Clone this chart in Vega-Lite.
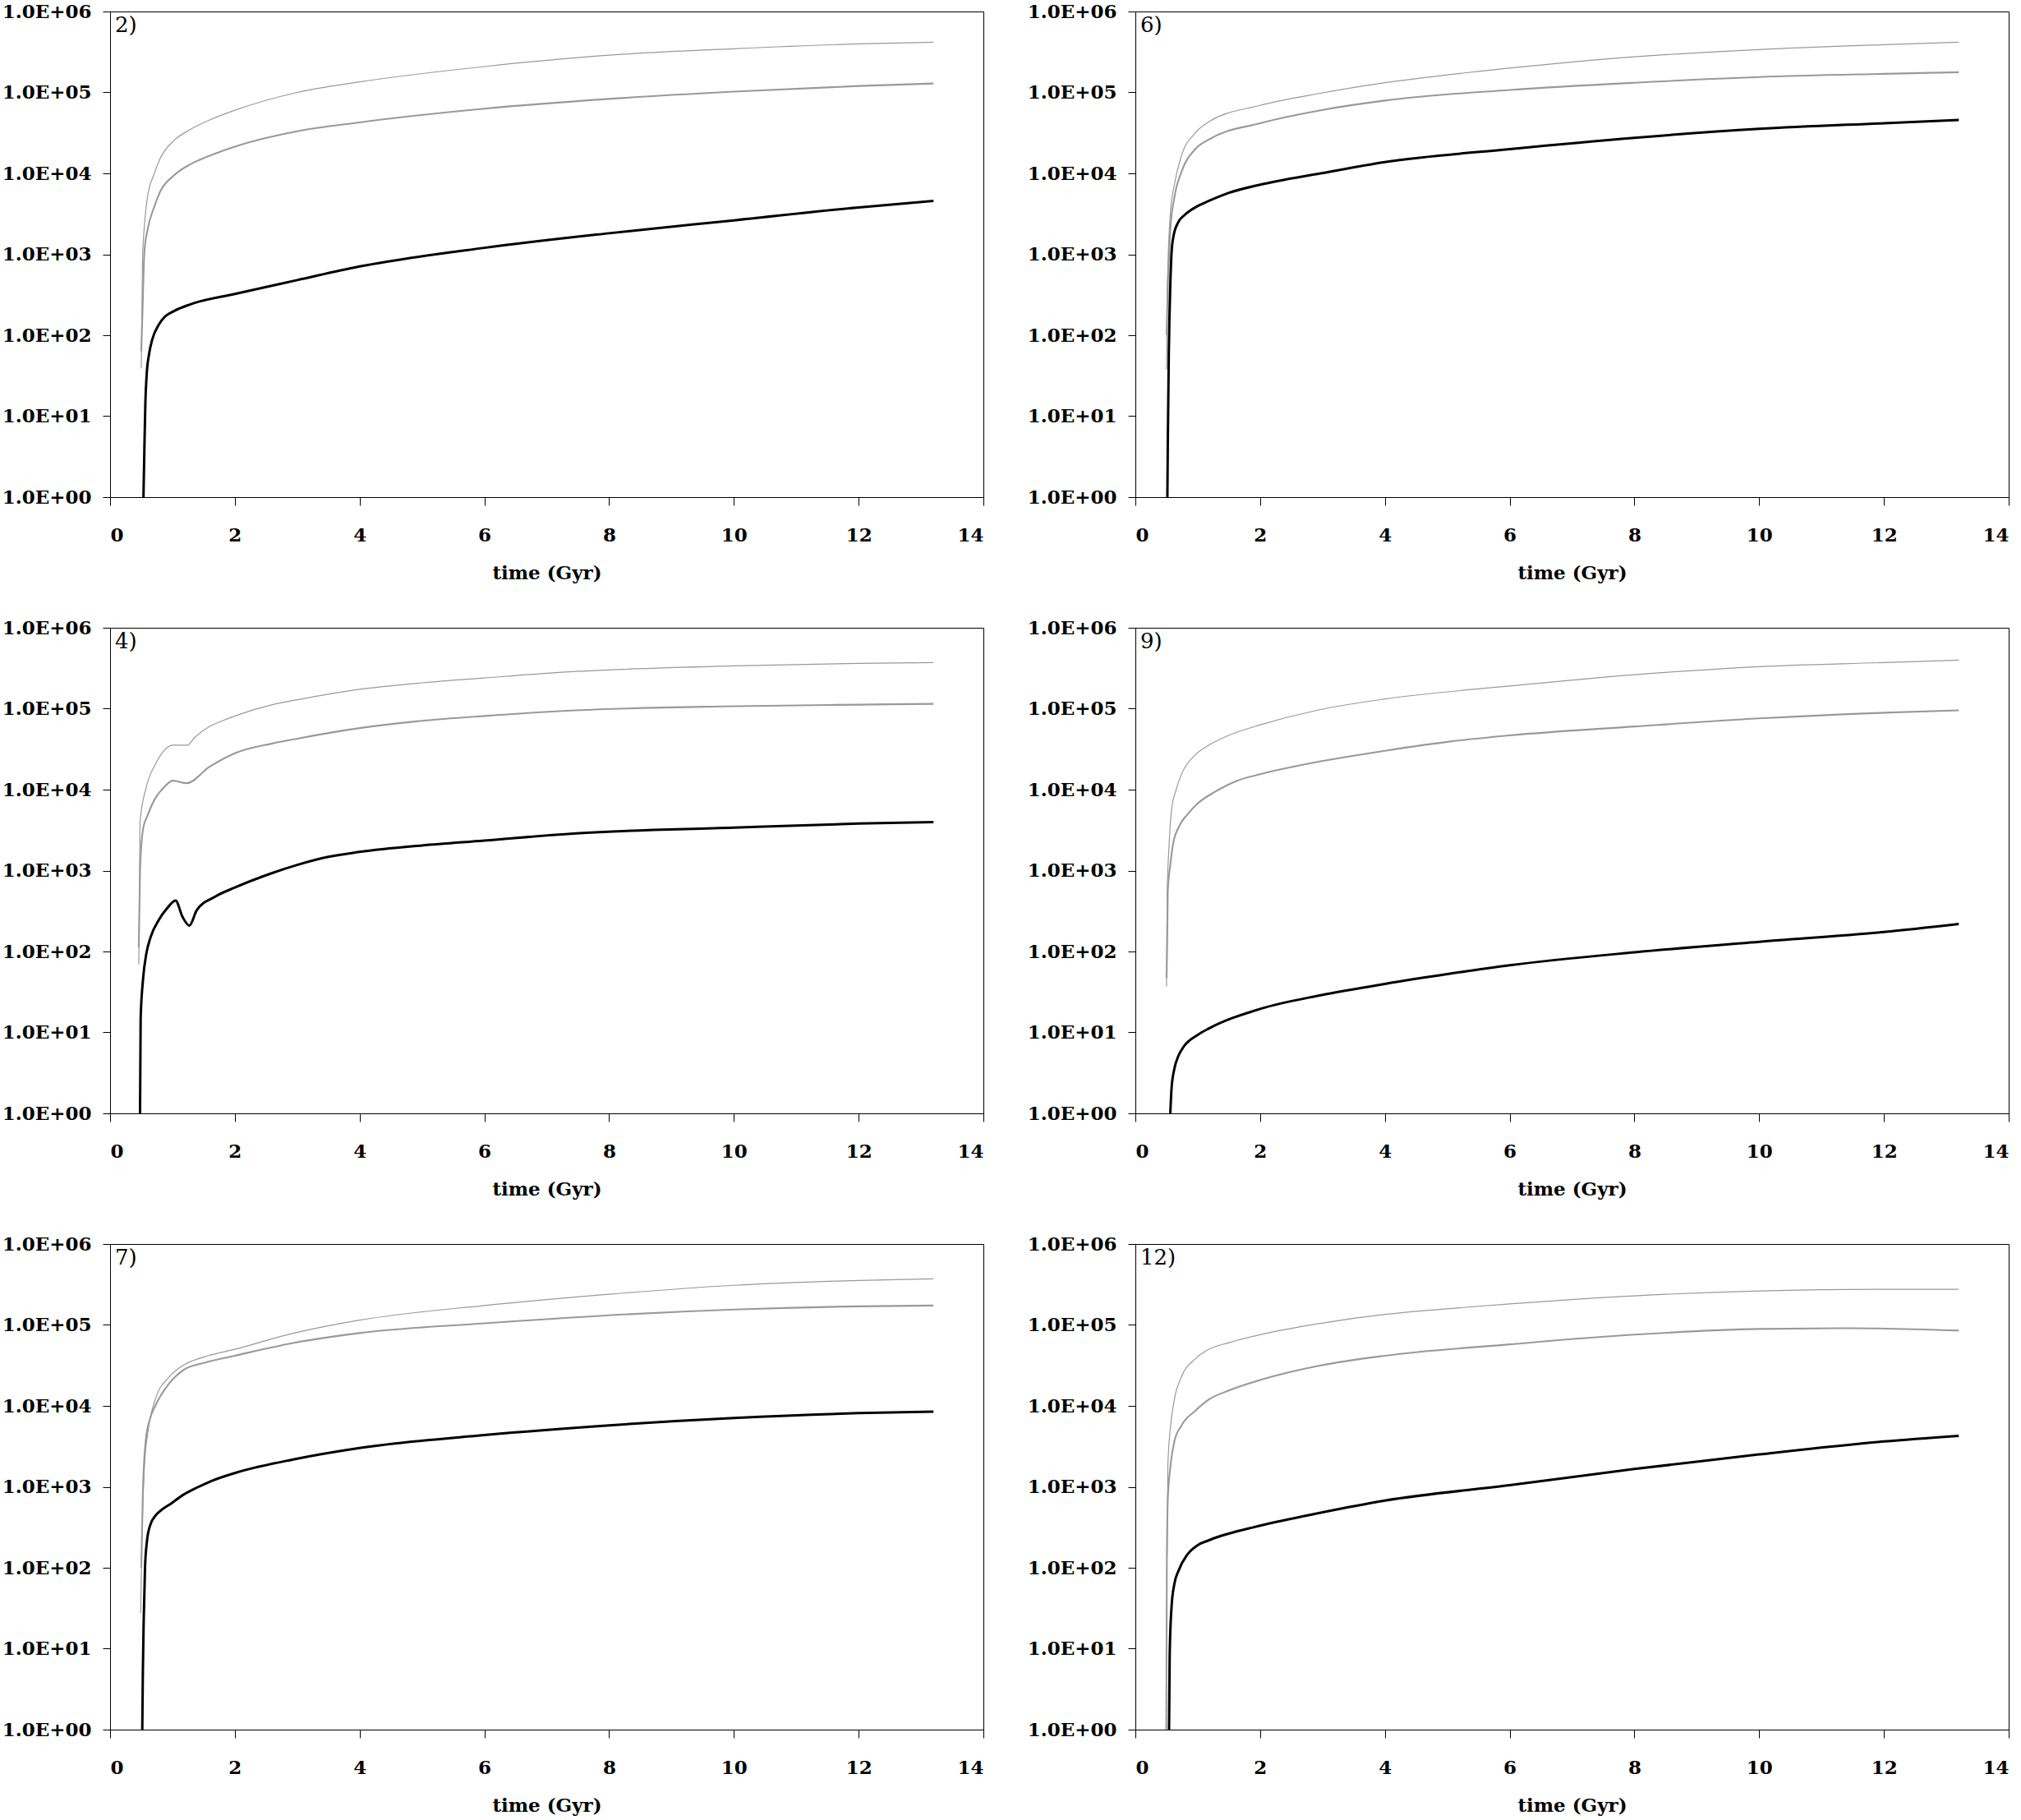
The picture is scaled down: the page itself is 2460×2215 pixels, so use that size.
{
  "$schema": "https://vega.github.io/schema/vega-lite/v6.json",
  "background": "white",
  "padding": {"left": 1, "top": 2, "right": 5, "bottom": 0},
  "data": {"values": [
    {"p":"2)","s":"light","t":0.5,"v":39},{"p":"2)","s":"light","t":0.52,"v":871},{"p":"2)","s":"light","t":0.55,"v":2239},{"p":"2)","s":"light","t":0.6,"v":5129},{"p":"2)","s":"light","t":0.7,"v":9550},{"p":"2)","s":"light","t":0.8,"v":15140},{"p":"2)","s":"light","t":1.03,"v":25700},{"p":"2)","s":"light","t":1.28,"v":34670},{"p":"2)","s":"light","t":1.54,"v":43650},{"p":"2)","s":"light","t":2,"v":60260},{"p":"2)","s":"light","t":3,"v":100000},{"p":"2)","s":"light","t":4,"v":134900},{"p":"2)","s":"light","t":6,"v":208900},{"p":"2)","s":"light","t":8,"v":288400},{"p":"2)","s":"light","t":10,"v":346700},{"p":"2)","s":"light","t":12,"v":398100},{"p":"2)","s":"light","t":13.2,"v":416900},
    {"p":"2)","s":"mid","t":0.5,"v":63},{"p":"2)","s":"mid","t":0.52,"v":200},{"p":"2)","s":"mid","t":0.55,"v":1072},{"p":"2)","s":"mid","t":0.6,"v":1995},{"p":"2)","s":"mid","t":0.7,"v":3715},{"p":"2)","s":"mid","t":0.8,"v":5888},{"p":"2)","s":"mid","t":1.03,"v":9550},{"p":"2)","s":"mid","t":1.28,"v":12880},{"p":"2)","s":"mid","t":1.54,"v":15850},{"p":"2)","s":"mid","t":2,"v":21380},{"p":"2)","s":"mid","t":3,"v":33110},{"p":"2)","s":"mid","t":4,"v":42660},{"p":"2)","s":"mid","t":6,"v":63100},{"p":"2)","s":"mid","t":8,"v":83180},{"p":"2)","s":"mid","t":10,"v":102300},{"p":"2)","s":"mid","t":12,"v":120200},{"p":"2)","s":"mid","t":13.2,"v":128800},
    {"p":"2)","s":"dark","t":0.535,"v":1},{"p":"2)","s":"dark","t":0.55,"v":4},{"p":"2)","s":"dark","t":0.566,"v":15},{"p":"2)","s":"dark","t":0.586,"v":32},{"p":"2)","s":"dark","t":0.626,"v":59},{"p":"2)","s":"dark","t":0.677,"v":89},{"p":"2)","s":"dark","t":0.78,"v":135},{"p":"2)","s":"dark","t":0.88,"v":170},{"p":"2)","s":"dark","t":1.03,"v":200},{"p":"2)","s":"dark","t":1.28,"v":240},{"p":"2)","s":"dark","t":2,"v":324},{"p":"2)","s":"dark","t":3,"v":480},{"p":"2)","s":"dark","t":4,"v":708},{"p":"2)","s":"dark","t":6,"v":1202},{"p":"2)","s":"dark","t":8,"v":1820},{"p":"2)","s":"dark","t":10,"v":2630},{"p":"2)","s":"dark","t":12,"v":3800},{"p":"2)","s":"dark","t":13.2,"v":4570},

    {"p":"6)","s":"light","t":0.5,"v":38},{"p":"6)","s":"light","t":0.51,"v":316},{"p":"6)","s":"light","t":0.56,"v":3162},{"p":"6)","s":"light","t":0.625,"v":7244},{"p":"6)","s":"light","t":0.74,"v":16600},{"p":"6)","s":"light","t":0.96,"v":31620},{"p":"6)","s":"light","t":1.18,"v":43650},{"p":"6)","s":"light","t":2,"v":69180},{"p":"6)","s":"light","t":2.97,"v":97720},{"p":"6)","s":"light","t":4,"v":131800},{"p":"6)","s":"light","t":6,"v":199500},{"p":"6)","s":"light","t":8,"v":275400},{"p":"6)","s":"light","t":10,"v":338800},{"p":"6)","s":"light","t":12,"v":389000},{"p":"6)","s":"light","t":13.2,"v":416900},
    {"p":"6)","s":"mid","t":0.5,"v":100},{"p":"6)","s":"mid","t":0.52,"v":380},{"p":"6)","s":"mid","t":0.56,"v":1995},{"p":"6)","s":"mid","t":0.625,"v":5012},{"p":"6)","s":"mid","t":0.74,"v":10470},{"p":"6)","s":"mid","t":0.96,"v":19950},{"p":"6)","s":"mid","t":1.18,"v":26300},{"p":"6)","s":"mid","t":2,"v":41690},{"p":"6)","s":"mid","t":2.97,"v":60260},{"p":"6)","s":"mid","t":4,"v":79430},{"p":"6)","s":"mid","t":6,"v":107200},{"p":"6)","s":"mid","t":8,"v":131800},{"p":"6)","s":"mid","t":10,"v":154900},{"p":"6)","s":"mid","t":12,"v":169800},{"p":"6)","s":"mid","t":13.2,"v":177800},
    {"p":"6)","s":"dark","t":0.513,"v":1},{"p":"6)","s":"dark","t":0.52,"v":4.8},{"p":"6)","s":"dark","t":0.536,"v":60},{"p":"6)","s":"dark","t":0.56,"v":417},{"p":"6)","s":"dark","t":0.58,"v":1047},{"p":"6)","s":"dark","t":0.61,"v":1660},{"p":"6)","s":"dark","t":0.69,"v":2512},{"p":"6)","s":"dark","t":0.78,"v":3020},{"p":"6)","s":"dark","t":0.96,"v":3802},{"p":"6)","s":"dark","t":1.18,"v":4571},{"p":"6)","s":"dark","t":1.5,"v":5754},{"p":"6)","s":"dark","t":2,"v":7244},{"p":"6)","s":"dark","t":2.97,"v":10000},{"p":"6)","s":"dark","t":4,"v":13800},{"p":"6)","s":"dark","t":6,"v":19950},{"p":"6)","s":"dark","t":8,"v":27540},{"p":"6)","s":"dark","t":10,"v":35480},{"p":"6)","s":"dark","t":12,"v":41690},{"p":"6)","s":"dark","t":13.2,"v":45710},

    {"p":"4)","s":"light","t":0.46,"v":69},{"p":"4)","s":"light","t":0.48,"v":3981},{"p":"4)","s":"light","t":0.58,"v":10720},{"p":"4)","s":"light","t":0.73,"v":20890},{"p":"4)","s":"light","t":1.01,"v":35480},{"p":"4)","s":"light","t":1.24,"v":35480},{"p":"4)","s":"light","t":1.35,"v":43650},{"p":"4)","s":"light","t":1.59,"v":60260},{"p":"4)","s":"light","t":1.8,"v":70800},{"p":"4)","s":"light","t":2,"v":81280},{"p":"4)","s":"light","t":2.6,"v":112200},{"p":"4)","s":"light","t":3,"v":128800},{"p":"4)","s":"light","t":4,"v":173800},{"p":"4)","s":"light","t":5,"v":208900},{"p":"4)","s":"light","t":6,"v":239900},{"p":"4)","s":"light","t":7.47,"v":288400},{"p":"4)","s":"light","t":10,"v":338800},{"p":"4)","s":"light","t":12,"v":363100},{"p":"4)","s":"light","t":13.2,"v":371500},
    {"p":"4)","s":"mid","t":0.46,"v":112},{"p":"4)","s":"mid","t":0.48,"v":1000},{"p":"4)","s":"mid","t":0.53,"v":3311},{"p":"4)","s":"mid","t":0.6,"v":4786},{"p":"4)","s":"mid","t":0.73,"v":7943},{"p":"4)","s":"mid","t":0.83,"v":10000},{"p":"4)","s":"mid","t":1.01,"v":12880},{"p":"4)","s":"mid","t":1.23,"v":12020},{"p":"4)","s":"mid","t":1.59,"v":19050},{"p":"4)","s":"mid","t":2,"v":28180},{"p":"4)","s":"mid","t":2.6,"v":37150},{"p":"4)","s":"mid","t":3,"v":42660},{"p":"4)","s":"mid","t":4,"v":57540},{"p":"4)","s":"mid","t":5,"v":70800},{"p":"4)","s":"mid","t":6,"v":81280},{"p":"4)","s":"mid","t":7.47,"v":95500},{"p":"4)","s":"mid","t":10,"v":107200},{"p":"4)","s":"mid","t":12,"v":112200},{"p":"4)","s":"mid","t":13.2,"v":114800},
    {"p":"4)","s":"dark","t":0.48,"v":1},{"p":"4)","s":"dark","t":0.49,"v":14.8},{"p":"4)","s":"dark","t":0.53,"v":46.8},{"p":"4)","s":"dark","t":0.58,"v":93},{"p":"4)","s":"dark","t":0.65,"v":151},{"p":"4)","s":"dark","t":0.78,"v":245},{"p":"4)","s":"dark","t":0.91,"v":339},{"p":"4)","s":"dark","t":1.05,"v":427},{"p":"4)","s":"dark","t":1.16,"v":269},{"p":"4)","s":"dark","t":1.27,"v":209},{"p":"4)","s":"dark","t":1.39,"v":324},{"p":"4)","s":"dark","t":1.69,"v":479},{"p":"4)","s":"dark","t":2,"v":617},{"p":"4)","s":"dark","t":2.6,"v":933},{"p":"4)","s":"dark","t":3,"v":1175},{"p":"4)","s":"dark","t":3.5,"v":1479},{"p":"4)","s":"dark","t":4,"v":1698},{"p":"4)","s":"dark","t":5,"v":2042},{"p":"4)","s":"dark","t":6,"v":2344},{"p":"4)","s":"dark","t":7.47,"v":2884},{"p":"4)","s":"dark","t":10,"v":3388},{"p":"4)","s":"dark","t":12,"v":3802},{"p":"4)","s":"dark","t":13.2,"v":3981},

    {"p":"9)","s":"light","t":0.5,"v":37},{"p":"9)","s":"light","t":0.51,"v":513},{"p":"9)","s":"light","t":0.54,"v":2042},{"p":"9)","s":"light","t":0.58,"v":5623},{"p":"9)","s":"light","t":0.65,"v":9772},{"p":"9)","s":"light","t":0.74,"v":15490},{"p":"9)","s":"light","t":0.96,"v":26920},{"p":"9)","s":"light","t":1.18,"v":35480},{"p":"9)","s":"light","t":1.63,"v":51290},{"p":"9)","s":"light","t":2,"v":63100},{"p":"9)","s":"light","t":2.97,"v":97720},{"p":"9)","s":"light","t":4,"v":131800},{"p":"9)","s":"light","t":6,"v":190500},{"p":"9)","s":"light","t":8,"v":263000},{"p":"9)","s":"light","t":10,"v":331100},{"p":"9)","s":"light","t":12,"v":371500},{"p":"9)","s":"light","t":13.2,"v":398100},
    {"p":"9)","s":"mid","t":0.5,"v":47},{"p":"9)","s":"mid","t":0.51,"v":126},{"p":"9)","s":"mid","t":0.52,"v":562},{"p":"9)","s":"mid","t":0.56,"v":1175},{"p":"9)","s":"mid","t":0.6,"v":2042},{"p":"9)","s":"mid","t":0.69,"v":3388},{"p":"9)","s":"mid","t":0.83,"v":4898},{"p":"9)","s":"mid","t":1,"v":6761},{"p":"9)","s":"mid","t":1.27,"v":9333},{"p":"9)","s":"mid","t":1.63,"v":12880},{"p":"9)","s":"mid","t":2,"v":15490},{"p":"9)","s":"mid","t":2.97,"v":22390},{"p":"9)","s":"mid","t":4,"v":30200},{"p":"9)","s":"mid","t":5,"v":38900},{"p":"9)","s":"mid","t":6,"v":46770},{"p":"9)","s":"mid","t":8,"v":60260},{"p":"9)","s":"mid","t":10,"v":75860},{"p":"9)","s":"mid","t":12,"v":89130},{"p":"9)","s":"mid","t":13.2,"v":95500},
    {"p":"9)","s":"dark","t":0.56,"v":1},{"p":"9)","s":"dark","t":0.58,"v":2.04},{"p":"9)","s":"dark","t":0.625,"v":3.55},{"p":"9)","s":"dark","t":0.69,"v":5.13},{"p":"9)","s":"dark","t":0.78,"v":6.76},{"p":"9)","s":"dark","t":1,"v":9.33},{"p":"9)","s":"dark","t":1.18,"v":11.2},{"p":"9)","s":"dark","t":2,"v":19.5},{"p":"9)","s":"dark","t":2.97,"v":28.8},{"p":"9)","s":"dark","t":4,"v":39.8},{"p":"9)","s":"dark","t":5,"v":52.5},{"p":"9)","s":"dark","t":6,"v":67.6},{"p":"9)","s":"dark","t":8,"v":97.7},{"p":"9)","s":"dark","t":10,"v":131.8},{"p":"9)","s":"dark","t":12,"v":173.8},{"p":"9)","s":"dark","t":13.2,"v":218.8},

    {"p":"7)","s":"light","t":0.49,"v":27.5},{"p":"7)","s":"light","t":0.51,"v":209},{"p":"7)","s":"light","t":0.55,"v":1738},{"p":"7)","s":"light","t":0.615,"v":5248},{"p":"7)","s":"light","t":0.725,"v":12020},{"p":"7)","s":"light","t":0.95,"v":22910},{"p":"7)","s":"light","t":1.17,"v":31620},{"p":"7)","s":"light","t":1.53,"v":40740},{"p":"7)","s":"light","t":2,"v":50120},{"p":"7)","s":"light","t":2.95,"v":79430},{"p":"7)","s":"light","t":4,"v":114800},{"p":"7)","s":"light","t":6,"v":173800},{"p":"7)","s":"light","t":8,"v":239900},{"p":"7)","s":"light","t":10,"v":309000},{"p":"7)","s":"light","t":12,"v":354800},{"p":"7)","s":"light","t":13.2,"v":371500},
    {"p":"7)","s":"mid","t":0.5,"v":100},{"p":"7)","s":"mid","t":0.525,"v":832},{"p":"7)","s":"mid","t":0.57,"v":3631},{"p":"7)","s":"mid","t":0.64,"v":6918},{"p":"7)","s":"mid","t":0.725,"v":10000},{"p":"7)","s":"mid","t":0.95,"v":19050},{"p":"7)","s":"mid","t":1.17,"v":27540},{"p":"7)","s":"mid","t":1.5,"v":33900},{"p":"7)","s":"mid","t":2,"v":41690},{"p":"7)","s":"mid","t":2.95,"v":60260},{"p":"7)","s":"mid","t":4,"v":79430},{"p":"7)","s":"mid","t":6,"v":104700},{"p":"7)","s":"mid","t":8,"v":131800},{"p":"7)","s":"mid","t":10,"v":154900},{"p":"7)","s":"mid","t":12,"v":169800},{"p":"7)","s":"mid","t":13.2,"v":173800},
    {"p":"7)","s":"dark","t":0.516,"v":1},{"p":"7)","s":"dark","t":0.525,"v":4.8},{"p":"7)","s":"dark","t":0.538,"v":20.9},{"p":"7)","s":"dark","t":0.56,"v":100},{"p":"7)","s":"dark","t":0.59,"v":209},{"p":"7)","s":"dark","t":0.64,"v":331},{"p":"7)","s":"dark","t":0.725,"v":437},{"p":"7)","s":"dark","t":0.8,"v":501},{"p":"7)","s":"dark","t":0.99,"v":631},{"p":"7)","s":"dark","t":1.17,"v":794},{"p":"7)","s":"dark","t":1.39,"v":977},{"p":"7)","s":"dark","t":1.62,"v":1175},{"p":"7)","s":"dark","t":2,"v":1479},{"p":"7)","s":"dark","t":2.95,"v":2188},{"p":"7)","s":"dark","t":4,"v":3020},{"p":"7)","s":"dark","t":6,"v":4365},{"p":"7)","s":"dark","t":8,"v":5754},{"p":"7)","s":"dark","t":10,"v":7079},{"p":"7)","s":"dark","t":12,"v":8128},{"p":"7)","s":"dark","t":13.2,"v":8511},

    {"p":"12)","s":"light","t":0.51,"v":145},{"p":"12)","s":"light","t":0.52,"v":1738},{"p":"12)","s":"light","t":0.56,"v":5248},{"p":"12)","s":"light","t":0.625,"v":12020},{"p":"12)","s":"light","t":0.74,"v":22910},{"p":"12)","s":"light","t":0.96,"v":38020},{"p":"12)","s":"light","t":1.18,"v":50120},{"p":"12)","s":"light","t":1.5,"v":60260},{"p":"12)","s":"light","t":2,"v":75860},{"p":"12)","s":"light","t":2.97,"v":104700},{"p":"12)","s":"light","t":4,"v":134900},{"p":"12)","s":"light","t":5,"v":158500},{"p":"12)","s":"light","t":6,"v":182000},{"p":"12)","s":"light","t":8,"v":229100},{"p":"12)","s":"light","t":10,"v":263000},{"p":"12)","s":"light","t":12,"v":275400},{"p":"12)","s":"light","t":13.2,"v":275400},
    {"p":"12)","s":"mid","t":0.495,"v":1},{"p":"12)","s":"mid","t":0.505,"v":132},{"p":"12)","s":"mid","t":0.52,"v":692},{"p":"12)","s":"mid","t":0.56,"v":1738},{"p":"12)","s":"mid","t":0.625,"v":3631},{"p":"12)","s":"mid","t":0.74,"v":5754},{"p":"12)","s":"mid","t":0.96,"v":8710},{"p":"12)","s":"mid","t":1.18,"v":12020},{"p":"12)","s":"mid","t":1.5,"v":15490},{"p":"12)","s":"mid","t":2,"v":20890},{"p":"12)","s":"mid","t":2.97,"v":31620},{"p":"12)","s":"mid","t":4,"v":41690},{"p":"12)","s":"mid","t":6,"v":57540},{"p":"12)","s":"mid","t":8,"v":75860},{"p":"12)","s":"mid","t":10,"v":89130},{"p":"12)","s":"mid","t":11.5,"v":91200},{"p":"12)","s":"mid","t":13.2,"v":85110},
    {"p":"12)","s":"dark","t":0.54,"v":1},{"p":"12)","s":"dark","t":0.55,"v":8.3},{"p":"12)","s":"dark","t":0.58,"v":33.1},{"p":"12)","s":"dark","t":0.625,"v":63.1},{"p":"12)","s":"dark","t":0.69,"v":91.2},{"p":"12)","s":"dark","t":0.83,"v":144.5},{"p":"12)","s":"dark","t":1,"v":190.5},{"p":"12)","s":"dark","t":1.18,"v":218.8},{"p":"12)","s":"dark","t":2,"v":331},{"p":"12)","s":"dark","t":2.97,"v":479},{"p":"12)","s":"dark","t":4,"v":676},{"p":"12)","s":"dark","t":6,"v":1047},{"p":"12)","s":"dark","t":8,"v":1660},{"p":"12)","s":"dark","t":10,"v":2512},{"p":"12)","s":"dark","t":12,"v":3631},{"p":"12)","s":"dark","t":13.2,"v":4266}
  ]},
  "columns": 2,
  "spacing": {"row": 159, "column": 185},
  "bounds": "flush",
  "concat": [
    {
      "transform": [{"filter": "datum.p == '2)'"}],
      "width": 1063, "height": 591,
      "layer": [
        {"mark": {"type": "line", "interpolate": "monotone", "clip": true},
         "encoding": {
           "x": {"field": "t", "type": "quantitative", "scale": {"domain": [0, 14]}, "axis": {"values": [0, 2, 4, 6, 8, 10, 12, 14], "format": "d", "title": "time (Gyr)"}},
           "y": {"field": "v", "type": "quantitative", "scale": {"type": "log", "domain": [1, 1000000]}, "axis": {"values": [1, 10, 100, 1000, 10000, 100000, 1000000], "title": null, "labelExpr": "'1.0E+0' + format(log(datum.value) / LN10, '.0f')"}},
           "color": {"field": "s", "type": "nominal", "legend": null, "scale": {"domain": ["light", "mid", "dark"], "range": ["#999999", "#999999", "#000000"]}},
           "strokeWidth": {"field": "s", "type": "nominal", "legend": null, "scale": {"domain": ["light", "mid", "dark"], "range": [1.2, 3, 3]}}
         }},
        {"transform": [{"filter": "datum.s == 'dark' && datum.t == 13.2"}],
         "mark": {"type": "text", "align": "left", "baseline": "top", "dx": 6, "dy": 4, "font": "DejaVu Serif", "fontSize": 26, "color": "black"},
         "encoding": {"x": {"datum": 0}, "y": {"datum": 1000000}, "text": {"field": "p"}}}
      ]
    },
    {
      "transform": [{"filter": "datum.p == '6)'"}],
      "width": 1063, "height": 591,
      "layer": [
        {"mark": {"type": "line", "interpolate": "monotone", "clip": true},
         "encoding": {
           "x": {"field": "t", "type": "quantitative", "scale": {"domain": [0, 14]}, "axis": {"values": [0, 2, 4, 6, 8, 10, 12, 14], "format": "d", "title": "time (Gyr)"}},
           "y": {"field": "v", "type": "quantitative", "scale": {"type": "log", "domain": [1, 1000000]}, "axis": {"values": [1, 10, 100, 1000, 10000, 100000, 1000000], "title": null, "labelExpr": "'1.0E+0' + format(log(datum.value) / LN10, '.0f')"}},
           "color": {"field": "s", "type": "nominal", "legend": null, "scale": {"domain": ["light", "mid", "dark"], "range": ["#999999", "#999999", "#000000"]}},
           "strokeWidth": {"field": "s", "type": "nominal", "legend": null, "scale": {"domain": ["light", "mid", "dark"], "range": [1.2, 3, 3]}}
         }},
        {"transform": [{"filter": "datum.s == 'dark' && datum.t == 13.2"}],
         "mark": {"type": "text", "align": "left", "baseline": "top", "dx": 6, "dy": 4, "font": "DejaVu Serif", "fontSize": 26, "color": "black"},
         "encoding": {"x": {"datum": 0}, "y": {"datum": 1000000}, "text": {"field": "p"}}}
      ]
    },
    {
      "transform": [{"filter": "datum.p == '4)'"}],
      "width": 1063, "height": 591,
      "layer": [
        {"mark": {"type": "line", "interpolate": "monotone", "clip": true},
         "encoding": {
           "x": {"field": "t", "type": "quantitative", "scale": {"domain": [0, 14]}, "axis": {"values": [0, 2, 4, 6, 8, 10, 12, 14], "format": "d", "title": "time (Gyr)"}},
           "y": {"field": "v", "type": "quantitative", "scale": {"type": "log", "domain": [1, 1000000]}, "axis": {"values": [1, 10, 100, 1000, 10000, 100000, 1000000], "title": null, "labelExpr": "'1.0E+0' + format(log(datum.value) / LN10, '.0f')"}},
           "color": {"field": "s", "type": "nominal", "legend": null, "scale": {"domain": ["light", "mid", "dark"], "range": ["#999999", "#999999", "#000000"]}},
           "strokeWidth": {"field": "s", "type": "nominal", "legend": null, "scale": {"domain": ["light", "mid", "dark"], "range": [1.2, 3, 3]}}
         }},
        {"transform": [{"filter": "datum.s == 'dark' && datum.t == 13.2"}],
         "mark": {"type": "text", "align": "left", "baseline": "top", "dx": 6, "dy": 4, "font": "DejaVu Serif", "fontSize": 26, "color": "black"},
         "encoding": {"x": {"datum": 0}, "y": {"datum": 1000000}, "text": {"field": "p"}}}
      ]
    },
    {
      "transform": [{"filter": "datum.p == '9)'"}],
      "width": 1063, "height": 591,
      "layer": [
        {"mark": {"type": "line", "interpolate": "monotone", "clip": true},
         "encoding": {
           "x": {"field": "t", "type": "quantitative", "scale": {"domain": [0, 14]}, "axis": {"values": [0, 2, 4, 6, 8, 10, 12, 14], "format": "d", "title": "time (Gyr)"}},
           "y": {"field": "v", "type": "quantitative", "scale": {"type": "log", "domain": [1, 1000000]}, "axis": {"values": [1, 10, 100, 1000, 10000, 100000, 1000000], "title": null, "labelExpr": "'1.0E+0' + format(log(datum.value) / LN10, '.0f')"}},
           "color": {"field": "s", "type": "nominal", "legend": null, "scale": {"domain": ["light", "mid", "dark"], "range": ["#999999", "#999999", "#000000"]}},
           "strokeWidth": {"field": "s", "type": "nominal", "legend": null, "scale": {"domain": ["light", "mid", "dark"], "range": [1.2, 3, 3]}}
         }},
        {"transform": [{"filter": "datum.s == 'dark' && datum.t == 13.2"}],
         "mark": {"type": "text", "align": "left", "baseline": "top", "dx": 6, "dy": 4, "font": "DejaVu Serif", "fontSize": 26, "color": "black"},
         "encoding": {"x": {"datum": 0}, "y": {"datum": 1000000}, "text": {"field": "p"}}}
      ]
    },
    {
      "transform": [{"filter": "datum.p == '7)'"}],
      "width": 1063, "height": 591,
      "layer": [
        {"mark": {"type": "line", "interpolate": "monotone", "clip": true},
         "encoding": {
           "x": {"field": "t", "type": "quantitative", "scale": {"domain": [0, 14]}, "axis": {"values": [0, 2, 4, 6, 8, 10, 12, 14], "format": "d", "title": "time (Gyr)"}},
           "y": {"field": "v", "type": "quantitative", "scale": {"type": "log", "domain": [1, 1000000]}, "axis": {"values": [1, 10, 100, 1000, 10000, 100000, 1000000], "title": null, "labelExpr": "'1.0E+0' + format(log(datum.value) / LN10, '.0f')"}},
           "color": {"field": "s", "type": "nominal", "legend": null, "scale": {"domain": ["light", "mid", "dark"], "range": ["#999999", "#999999", "#000000"]}},
           "strokeWidth": {"field": "s", "type": "nominal", "legend": null, "scale": {"domain": ["light", "mid", "dark"], "range": [1.2, 3, 3]}}
         }},
        {"transform": [{"filter": "datum.s == 'dark' && datum.t == 13.2"}],
         "mark": {"type": "text", "align": "left", "baseline": "top", "dx": 6, "dy": 4, "font": "DejaVu Serif", "fontSize": 26, "color": "black"},
         "encoding": {"x": {"datum": 0}, "y": {"datum": 1000000}, "text": {"field": "p"}}}
      ]
    },
    {
      "transform": [{"filter": "datum.p == '12)'"}],
      "width": 1063, "height": 591,
      "layer": [
        {"mark": {"type": "line", "interpolate": "monotone", "clip": true},
         "encoding": {
           "x": {"field": "t", "type": "quantitative", "scale": {"domain": [0, 14]}, "axis": {"values": [0, 2, 4, 6, 8, 10, 12, 14], "format": "d", "title": "time (Gyr)"}},
           "y": {"field": "v", "type": "quantitative", "scale": {"type": "log", "domain": [1, 1000000]}, "axis": {"values": [1, 10, 100, 1000, 10000, 100000, 1000000], "title": null, "labelExpr": "'1.0E+0' + format(log(datum.value) / LN10, '.0f')"}},
           "color": {"field": "s", "type": "nominal", "legend": null, "scale": {"domain": ["light", "mid", "dark"], "range": ["#999999", "#999999", "#000000"]}},
           "strokeWidth": {"field": "s", "type": "nominal", "legend": null, "scale": {"domain": ["light", "mid", "dark"], "range": [1.2, 3, 3]}}
         }},
        {"transform": [{"filter": "datum.s == 'dark' && datum.t == 13.2"}],
         "mark": {"type": "text", "align": "left", "baseline": "top", "dx": 6, "dy": 4, "font": "DejaVu Serif", "fontSize": 26, "color": "black"},
         "encoding": {"x": {"datum": 0}, "y": {"datum": 1000000}, "text": {"field": "p"}}}
      ]
    }
  ],
  "config": {
    "view": {"stroke": "black", "strokeWidth": 1},
    "axis": {
      "grid": false,
      "labelFont": "DejaVu Serif", "labelFontSize": 23, "labelFontWeight": "bold", "labelColor": "black",
      "titleFont": "DejaVu Serif", "titleFontSize": 23, "titleFontWeight": "bold", "titleColor": "black",
      "domainColor": "black", "tickColor": "black", "domainWidth": 1, "tickWidth": 1
    },
    "axisY": {"tickSize": 9, "labelPadding": 14},
    "axisX": {"tickSize": 10, "labelPadding": 25, "titlePadding": 23}
  }
}
